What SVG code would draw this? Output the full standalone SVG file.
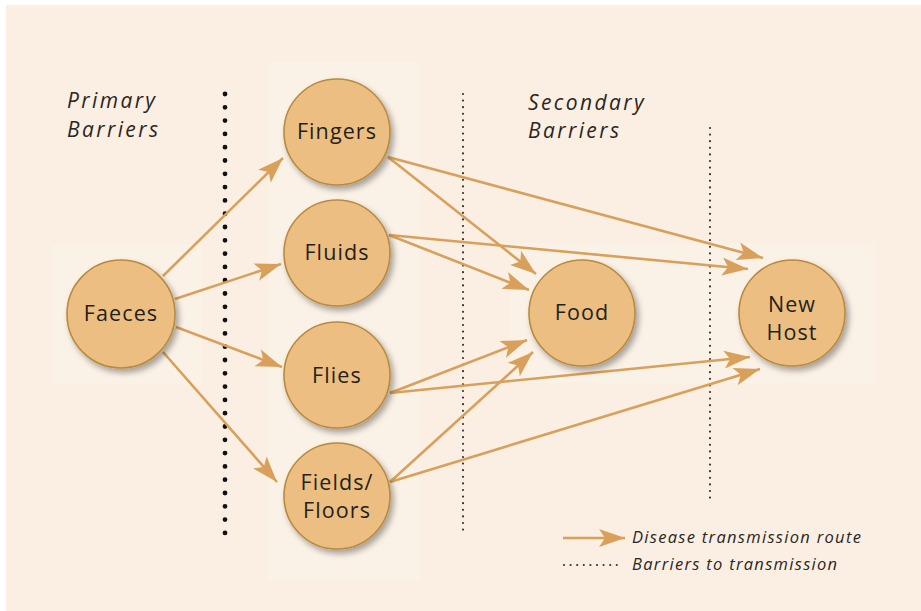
<svg xmlns="http://www.w3.org/2000/svg" width="921" height="611" viewBox="0 0 921 611">
<style>
.node{fill:#EDBE82;stroke:#B98A3E;stroke-width:1.6;filter:url(#sh)}
.nt{font-family:"Open Sans","Liberation Sans",sans-serif;font-size:21.5px;fill:#231F1A;text-anchor:middle;letter-spacing:1.1px}
.it{font-family:"Open Sans","Liberation Sans",sans-serif;font-style:italic;font-size:21px;fill:#2A2622;letter-spacing:2.4px}
.lg{font-family:"Open Sans","Liberation Sans",sans-serif;font-style:italic;font-size:16.5px;fill:#2A2622;letter-spacing:1.3px}
.arr{fill:none;stroke:#D8A05A;stroke-width:2.6;marker-end:url(#ah)}
.fine{fill:none;stroke:#3A3632;stroke-width:2.2;stroke-linecap:round;stroke-dasharray:0 6.6}
</style>
<defs>
<filter id="sh" x="-30%" y="-30%" width="170%" height="170%">
<feGaussianBlur in="SourceAlpha" stdDeviation="3"/>
<feOffset dx="3" dy="4" result="b"/>
<feComponentTransfer><feFuncA type="linear" slope="0.35"/></feComponentTransfer>
<feMerge><feMergeNode/><feMergeNode in="SourceGraphic"/></feMerge>
</filter>
<marker id="ah" markerUnits="userSpaceOnUse" markerWidth="32" markerHeight="22" viewBox="-28 -11 32 22" refX="0" refY="0" orient="auto">
<path d="M0,0 L-26,-9 L-20,0 L-26,9 Z" fill="#D8A05A"/>
</marker>
</defs>
<rect x="0" y="0" width="921" height="611" fill="#FFFFFF"/>
<rect x="6" y="5" width="915" height="606" fill="#FAEFE2"/>
<rect x="268" y="62" width="152" height="518" fill="#FBF2E7"/>
<rect x="52" y="245" width="150" height="140" fill="#FBF2E7"/>
<rect x="510" y="243" width="365" height="140" fill="#FBF2E7"/>

<g id="barriers">
<line x1="225" y1="94" x2="225" y2="535" stroke="#111" stroke-width="4.8" stroke-linecap="round" stroke-dasharray="0 13.3"/>
<line class="fine" x1="463" y1="94" x2="463" y2="535"/>
<line class="fine" x1="710" y1="128" x2="710" y2="500"/>
</g>

<g id="labels">
<text class="it" x="67" y="108">Primary</text>
<text class="it" x="67" y="137">Barriers</text>
<text class="it" x="528" y="110">Secondary</text>
<text class="it" x="528" y="138">Barriers</text>
</g>

<g id="connectors">
<line class="arr" x1="163" y1="276" x2="283" y2="158"/>
<line class="arr" x1="175" y1="299" x2="281" y2="264"/>
<line class="arr" x1="176" y1="327" x2="282" y2="367"/>
<line class="arr" x1="163" y1="352" x2="277" y2="482"/>
<line class="arr" x1="388" y1="157" x2="536" y2="274"/>
<line class="arr" x1="388" y1="157" x2="763" y2="258"/>
<line class="arr" x1="389" y1="235" x2="529" y2="290"/>
<line class="arr" x1="389" y1="235" x2="748" y2="269"/>
<line class="arr" x1="390" y1="393" x2="527" y2="340"/>
<line class="arr" x1="390" y1="393" x2="750" y2="357"/>
<line class="arr" x1="390" y1="482" x2="533" y2="352"/>
<line class="arr" x1="390" y1="482" x2="760" y2="369"/>
</g>

<g id="faeces"><circle class="node" cx="121" cy="314" r="54"/><text class="nt" x="121" y="321">Faeces</text></g>
<g id="fingers"><circle class="node" cx="337" cy="132" r="53"/><text class="nt" x="337" y="139">Fingers</text></g>
<g id="fluids"><circle class="node" cx="337" cy="253" r="53"/><text class="nt" x="337" y="260">Fluids</text></g>
<g id="flies"><circle class="node" cx="337" cy="375" r="53"/><text class="nt" x="337" y="383">Flies</text></g>
<g id="fields"><circle class="node" cx="337" cy="496" r="53"/><text class="nt" x="337" y="490">Fields/</text><text class="nt" x="337" y="518">Floors</text></g>
<g id="food"><circle class="node" cx="582" cy="313" r="53"/><text class="nt" x="582" y="320">Food</text></g>
<g id="newhost"><circle class="node" cx="792" cy="313" r="53"/><text class="nt" x="792" y="312">New</text><text class="nt" x="792" y="340">Host</text></g>

<g id="legend">
<line class="arr" x1="563" y1="538" x2="625" y2="538"/>
<text class="lg" x="632" y="543">Disease transmission route</text>
<line class="fine" x1="564" y1="565" x2="617" y2="565"/>
<text class="lg" x="632" y="570">Barriers to transmission</text>
</g>
</svg>
